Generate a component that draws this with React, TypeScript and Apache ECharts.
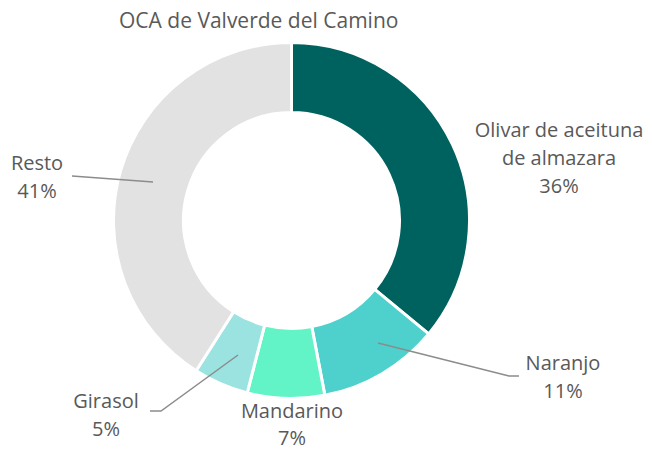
import React, { useEffect, useRef } from "react";
import * as echarts from "echarts";

const categories = ["Olivar de aceituna\nde almazara", "Naranjo", "Mandarino", "Girasol", "Resto"];
const values = [36, 11, 7, 5, 41];
const colors = ["#00625F", "#4ED1CC", "#62F3C6", "#9BE3E1", "#E2E2E2"];
const titleText = "OCA de Valverde del Camino";

// label anchor positions and leader lines (layout only)
const labelPos: { x: number; y: number; lh: number; line?: number[][] }[] = [
  { x: 559, y: 157, lh: 28 },
  { x: 563, y: 376, lh: 28, line: [[378, 343], [509, 376], [519, 376]] },
  { x: 292, y: 424, lh: 27 },
  { x: 106, y: 414, lh: 28, line: [[238, 355], [161, 411], [150, 411]] },
  { x: 37, y: 176, lh: 28, line: [[153, 182], [72, 176]] },
];

export default function App() {
  const ref = useRef<HTMLDivElement>(null);
  useEffect(() => {
    document.body.style.margin = "0";
    const chart = echarts.init(ref.current!, undefined, { renderer: "svg" });
    chart.setOption({
      animation: false,
      backgroundColor: "#ffffff",
      title: {
        text: titleText,
        left: 114,
        top: 4,
        textStyle: { fontFamily: "Open Sans", fontSize: 21, fontWeight: "normal", color: "#595959" },
      },
      graphic: labelPos
        .filter((p) => p.line)
        .map((p) => ({
          type: "polyline",
          z: 100,
          shape: { points: p.line },
          style: { stroke: "#8c8c8c", lineWidth: 1.5, fill: null },
        })),
      series: [
        {
          type: "pie",
          center: [291.5, 220.5],
          radius: [108, 178],
          startAngle: 90,
          clockwise: true,
          avoidLabelOverlap: false,
          itemStyle: { borderColor: "#ffffff", borderWidth: 3 },
          label: {
            show: true,
            formatter: (p: any) => `${p.name}\n${p.value}%`,
            fontFamily: "Open Sans",
            fontSize: 20,
            lineHeight: 28,
            color: "#595959",
            align: "center",
          },
          labelLine: { show: false },
          labelLayout: (params: any) => {
            const p = labelPos[params.dataIndex];
            return { x: p.x, y: p.y, align: "center", verticalAlign: "middle" };
          },
          data: categories.map((name, i) => ({
            name,
            value: values[i],
            itemStyle: { color: colors[i] },
            label: { lineHeight: labelPos[i].lh },
          })),
        },
      ],
    });
    return () => chart.dispose();
  }, []);
  return <div ref={ref} style={{ width: 652, height: 452 }} />;
}
